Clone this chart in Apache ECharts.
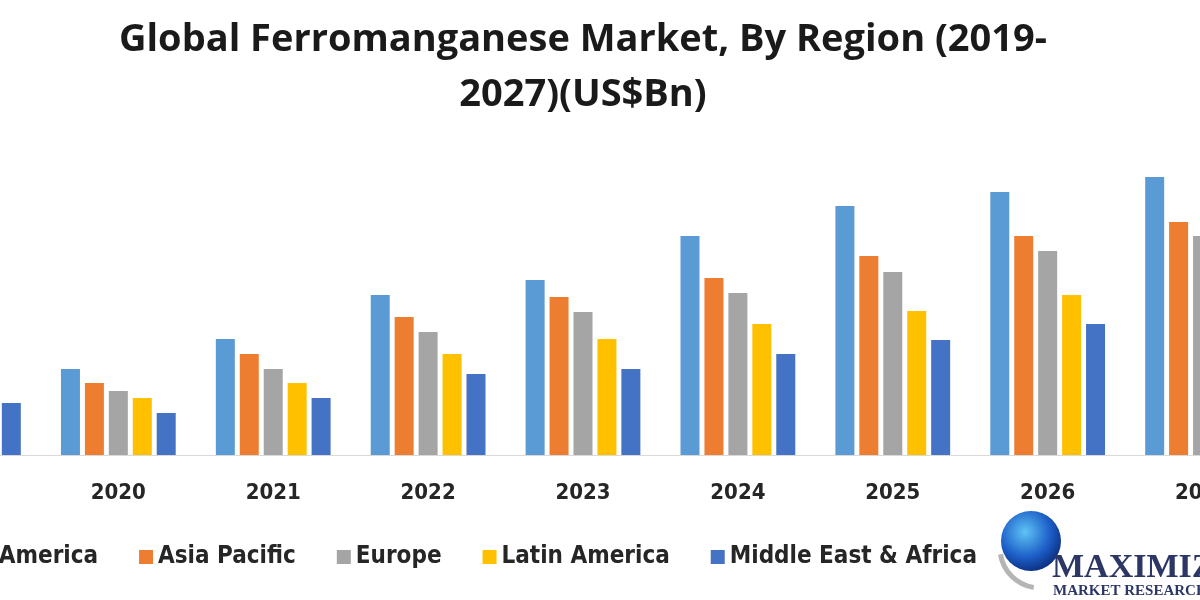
<!DOCTYPE html>
<html>
<head>
<meta charset="utf-8">
<script src="https://cdn.jsdelivr.net/npm/echarts@6/dist/echarts.min.js"></script>
<style>
html,body{margin:0;padding:0;background:#fff;width:1200px;height:600px;overflow:hidden;position:relative;}
#c{position:absolute;left:-114px;top:0;width:1394px;height:600px;}
</style>
</head>
<body>
<div id="c"></div>
<script>
const categories = ['2019', '2020', '2021', '2022', '2023', '2024', '2025', '2026', '2027'];
const northAmerica = [1.45, 1.72, 2.32, 3.20, 3.50, 4.38, 4.98, 5.26, 5.56];
const asiaPacific  = [1.25, 1.44, 2.02, 2.76, 3.16, 3.54, 3.98, 4.38, 4.66];
const europe       = [1.15, 1.28, 1.72, 2.46, 2.86, 3.24, 3.66, 4.08, 4.38];
const latinAmerica = [1.05, 1.14, 1.44, 2.02, 2.32, 2.62, 2.88, 3.20, 3.50];
const middleEastAfrica = [1.04, 0.84, 1.14, 1.62, 1.72, 2.02, 2.30, 2.62, 2.90];
const seriesNames = ['North America', 'Asia Pacific', 'Europe', 'Latin America', 'Middle East & Africa'];
const colors = ['#5B9BD5', '#ED7D31', '#A5A5A5', '#FFC000', '#4472C4'];

const chart = echarts.init(document.getElementById('c'));
const dataSets = [northAmerica, asiaPacific, europe, latinAmerica, middleEastAfrica];
const labelFont = '"DejaVu Sans Condensed", "Open Sans", sans-serif';
const OX = 114; // offset of the viewport inside the wider chart canvas

chart.setOption({
  animation: false,
  backgroundColor: '#ffffff',
  color: colors,
  title: {
    text: 'Global Ferromanganese Market, By Region (2019-\n2027)(US$Bn)',
    left: 'center',
    top: 13,
    padding: [0, 0, 0, 6],
    textStyle: {
      fontFamily: '"Open Sans", Lato, sans-serif',
      fontWeight: 'bold',
      fontSize: 38,
      lineHeight: 55,
      color: '#1a1a1a'
    }
  },
  legend: {
    data: seriesNames,
    left: 12,
    top: 540,
    itemWidth: 14,
    itemHeight: 14,
    itemGap: 41,
    icon: 'rect',
    textStyle: {
      fontFamily: labelFont,
      fontSize: 24,
      fontWeight: 'bold',
      color: '#262626'
    }
  },
  grid: {
    left: 0,
    right: 0,
    top: 155,
    bottom: 145,
    containLabel: false
  },
  xAxis: {
    type: 'category',
    data: categories,
    axisLine: { show: true, lineStyle: { color: '#d9d9d9', width: 1 } },
    axisTick: { show: false },
    axisLabel: {
      margin: 27,
      fontFamily: labelFont,
      fontSize: 22,
      fontWeight: 'bold',
      color: '#262626'
    }
  },
  yAxis: {
    type: 'value',
    min: 0,
    max: 6,
    show: false,
    splitLine: { show: false }
  },
  series: seriesNames.map((name, i) => ({
    name: name,
    type: 'bar',
    data: dataSets[i],
    barWidth: 19,
    barGap: '26%',
    itemStyle: { color: colors[i] }
  })),
  graphic: [
    {
      type: 'arc',
      shape: { cx: 1040 + OX, cy: 548, r: 40, startAngle: Math.PI * 0.55, endAngle: Math.PI * 0.95 },
      style: { stroke: '#b5b5b5', lineWidth: 5, fill: null },
      z: 9
    },
    {
      type: 'circle',
      shape: { cx: 1031 + OX, cy: 541, r: 30 },
      style: {
        fill: {
          type: 'radial', x: 0.4, y: 0.35, r: 0.7,
          colorStops: [{ offset: 0, color: '#5fc3f5' }, { offset: 0.6, color: '#1d5fc8' }, { offset: 1, color: '#0b2a7a' }]
        }
      },
      z: 10
    },
    {
      type: 'text',
      left: 1052 + OX,
      top: 551,
      style: {
        text: 'MAXIMIZE',
        font: 'bold 34px "Liberation Serif", serif',
        fill: '#2d3766'
      },
      z: 11
    },
    {
      type: 'text',
      left: 1053 + OX,
      top: 584,
      style: {
        text: 'MARKET RESEARCH',
        font: 'bold 15px "Liberation Serif", serif',
        fill: '#2d3766'
      },
      z: 11
    }
  ]
});
</script>
</body>
</html>
